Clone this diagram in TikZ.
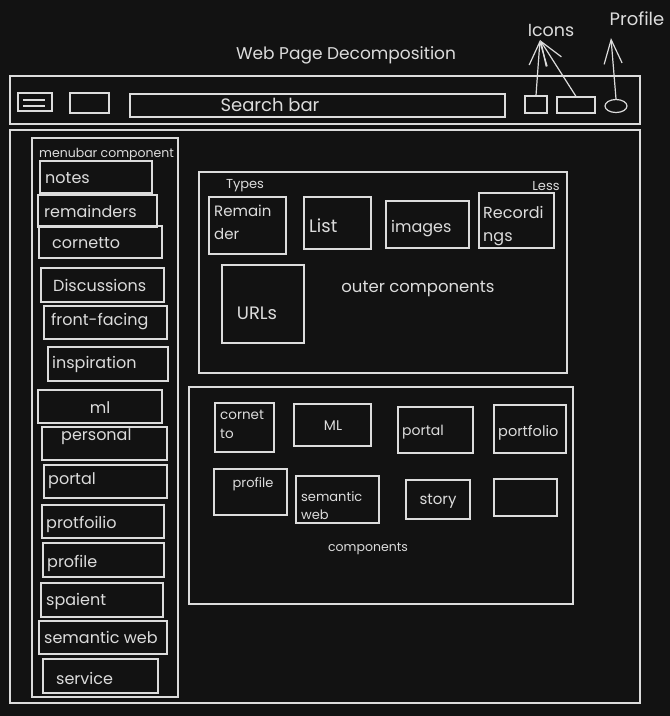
\documentclass[tikz,border=0pt]{standalone}
\usepackage{fontspec}
\setmainfont{Poppins}
\usetikzlibrary{fit,arrows.meta,shapes.geometric}
\definecolor{bgc}{HTML}{121212}
\definecolor{fgc}{HTML}{DCDCDC}
\tikzset{
  box/.style={draw=fgc, line width=1.2pt, inner sep=0pt},
  lbl/.style={text=fgc, inner sep=0pt, font=\fontsize{16}{18}\selectfont},
  small/.style={text=fgc, inner sep=0pt, font=\fontsize{12.5}{14}\selectfont},
  mid/.style={text=fgc, inner sep=0pt, font=\fontsize{14}{16}\selectfont, align=left},
  arr/.style={draw=fgc, line width=1.2pt, -{Straight Barb[length=24pt,width=18pt,line width=1.2pt]}}
}
\newcommand{\bx}[5]{\node[box, fit={(#2,#3) (#4,#5)}] (#1) {};}
\begin{document}
\begin{tikzpicture}[x=1pt,y=-1pt]
\fill[bgc] (0,0) rectangle (670,716);
\useasboundingbox (0,0) rectangle (670,716);
% title
\node[lbl, font=\fontsize{17}{20}\selectfont] (title) at (346,55) {Web Page Decomposition};
\node[lbl, font=\fontsize{17.5}{20}\selectfont] (icons) at (551,30) {Icons};
\node[lbl, font=\fontsize{18}{20}\selectfont] (prof) at (637,19) {Profile};
\coordinate (icontip) at (540,40);
\coordinate (proftip) at (611,38);
% header
\bx{header}{10}{76}{640}{124}
\bx{menuicon}{18}{93}{52}{111}
\draw[fgc, line width=1.2pt] (23,100) -- (45,100) (23,106) -- (45,106);
\bx{hbox}{70}{93}{109}{113}
\bx{search}{130}{94}{505}{117}
\node[lbl, font=\fontsize{18}{20}\selectfont] (searcht) at (270,105) {Search bar};
\bx{ib1}{525}{96}{547}{113}
\bx{ib2}{557}{97}{595}{113}
\node[draw=fgc, line width=1.2pt, ellipse, minimum width=22pt, minimum height=13pt, inner sep=0pt] (circ) at (616,106) {};
\draw[arr] (ib1.north) -- (icontip);
\draw[arr] (ib2.north) -- (icontip);
\draw[arr] (circ.north) -- (proftip);
% body
\bx{body}{10}{130}{640}{703}
% menubar
\bx{menubar}{32}{138}{178}{697}
\node[small, anchor=west] (mbt) at (39,154) {menubar component};
\bx{m1}{40}{161}{152}{193}   \node[lbl, anchor=west] (t1) at (45,178) {notes};
\bx{m2}{38}{195}{157}{227}   \node[lbl, anchor=west] (t2) at (44,211) {remainders};
\bx{m3}{39}{226}{162}{258}   \node[lbl, anchor=west] (t3) at (52,243) {cornetto};
\bx{m4}{41}{268}{164}{302}   \node[lbl, anchor=west] (t4) at (53,285) {Discussions};
\bx{m5}{44}{306}{167}{339}   \node[lbl, anchor=west] (t5) at (51,322) {front-facing};
\bx{m6}{48}{347}{168}{381}   \node[lbl, anchor=west] (t6) at (52,364) {inspiration};
\bx{m7}{38}{390}{162}{423}   \node[lbl] (t7) at (100,408) {ml};
\bx{m8}{42}{427}{167}{460}   \node[lbl, anchor=west] (t8) at (61,437) {personal};
\bx{m9}{44}{465}{167}{498}   \node[lbl, anchor=west] (t9) at (48,481) {portal};
\bx{m10}{42}{505}{164}{538}  \node[lbl, anchor=west] (t10) at (46,524) {protfoilio};
\bx{m11}{43}{543}{164}{577}  \node[lbl, anchor=west] (t11) at (47,563) {profile};
\bx{m12}{41}{583}{163}{617}  \node[lbl, anchor=west] (t12) at (46,601) {spaient};
\bx{m13}{39}{621}{167}{654}  \node[lbl, anchor=west] (t13) at (44,637) {semantic web};
\bx{m14}{43}{659}{158}{693}  \node[lbl, anchor=west] (t14) at (56,678) {service};
% outer components
\bx{outer}{199}{172}{567}{373}
\node[small, font=\fontsize{13}{15}\selectfont] (types) at (245,186) {Types};
\node[small, font=\fontsize{13}{15}\selectfont] (less) at (546,186) {Less};
\bx{o1}{209}{197}{286}{254}  \node[lbl, anchor=north west, align=left, font=\fontsize{15}{23}\selectfont] (ot1) at (214,205) {Remain\\der};
\bx{o2}{304}{197}{371}{249}  \node[lbl, anchor=west, font=\fontsize{18}{20}\selectfont] (ot2) at (309,226) {List};
\bx{o3}{386}{201}{469}{248}  \node[lbl, anchor=west] (ot3) at (391,229) {images};
\bx{o4}{479}{193}{554}{248}  \node[lbl, anchor=north west, align=left, font=\fontsize{16}{23}\selectfont] (ot4) at (483,206) {Recordi\\ngs};
\bx{o5}{222}{265}{304}{343}  \node[lbl, font=\fontsize{18}{20}\selectfont] (ot5) at (257,313) {URLs};
\node[lbl, font=\fontsize{16.5}{18}\selectfont] (outt) at (418,289) {outer components};
% components
\bx{comp}{189}{387}{573}{604}
\bx{c1}{215}{403}{274}{452}  \node[mid, anchor=north west, font=\fontsize{13.5}{19}\selectfont] (ct1) at (220,410) {cornet\\to};
\bx{c2}{294}{404}{371}{446}  \node[mid] (ct2) at (333,426) {ML};
\bx{c3}{398}{407}{473}{453}  \node[mid, anchor=west] (ct3) at (402,432) {portal};
\bx{c4}{494}{405}{566}{453}  \node[mid, anchor=west, font=\fontsize{14.5}{16}\selectfont] (ct4) at (498,433) {portfolio};
\bx{c5}{214}{469}{287}{515}  \node[mid, font=\fontsize{13}{16}\selectfont] (ct5) at (253,484) {profile};
\bx{c6}{296}{476}{379}{523}  \node[mid, anchor=north west, font=\fontsize{13}{18}\selectfont] (ct6) at (301,491) {semantic\\web};
\bx{c7}{406}{480}{470}{519}  \node[mid, font=\fontsize{15}{16}\selectfont] (ct7) at (438,501) {story};
\bx{c8}{494}{479}{557}{516}
\node[mid, font=\fontsize{12.5}{16}\selectfont] (compt) at (368,549) {components};
\end{tikzpicture}
\end{document}
